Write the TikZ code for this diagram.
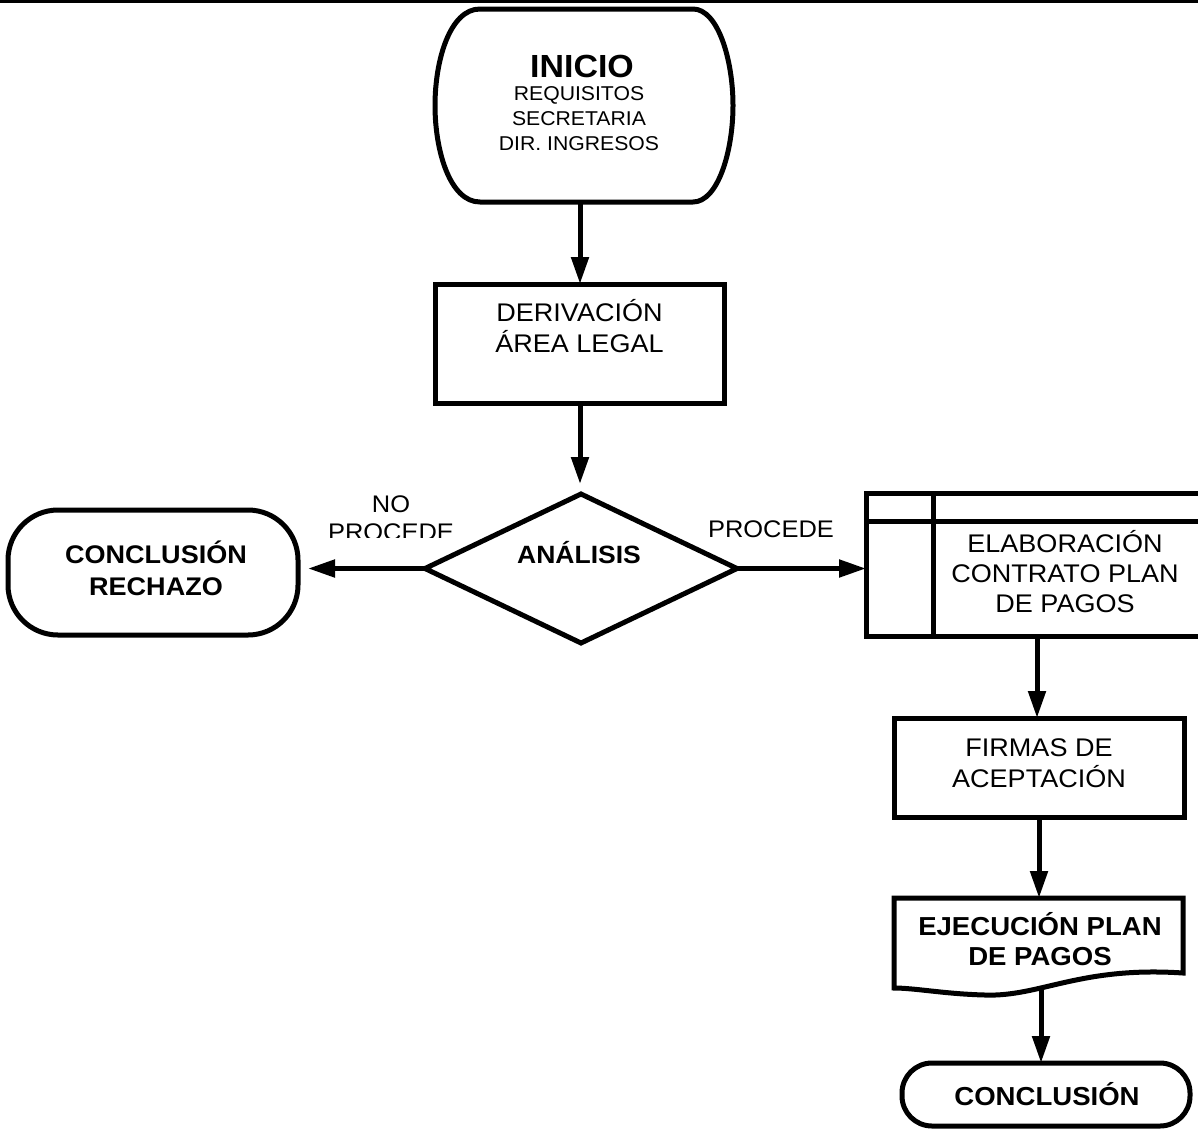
\documentclass[tikz,border=0pt]{standalone}
\usepackage{fontspec}
\setmainfont{Liberation Sans}[FakeStretch=1.06]
\usetikzlibrary{arrows.meta,shapes.geometric}
\tikzset{
  ln/.style={line width=5pt},
  arr/.style={line width=5pt,-{Triangle[length=27pt,width=17pt]}},
  inv/.style={draw=none,inner sep=0pt,outer sep=0pt,minimum width=#1},
  boxnode/.style={draw,line width=5pt,inner sep=0pt,outer sep=0pt},
  txt/.style={anchor=base,align=center,inner sep=0pt},
}
\newcommand{\fs}[2]{\fontsize{#1pt}{#2pt}\selectfont}
\begin{document}
\begin{tikzpicture}[x=1pt,y=-1pt]
\useasboundingbox (0,0) rectangle (1198,1135);
\clip (0,0) rectangle (1198,1135);
\fill[white] (0,0) rectangle (1198,1135);
% top rule
\draw[line width=3pt] (0,1.5) -- (1198,1.5);

% INICIO
\node[inv=290pt,minimum height=193pt] (inicio) at (580,105.5) {};
\draw[ln] (480,9) -- (693,9)
  .. controls (718,9) and (733,60) .. (733,105.5)
  .. controls (733,151) and (718,202) .. (693,202)
  -- (480,202)
  .. controls (450,202) and (435,151) .. (435,105.5)
  .. controls (435,60) and (450,9) .. (480,9) -- cycle;
\node[txt,font=\bfseries\fs{32}{36}] (tinicio) at (582,77) {INICIO};
\node[txt,font=\fs{20}{25}] (treq) at (579,150.7) {REQUISITOS\\SECRETARIA\\DIR. INGRESOS};

% DERIVACION
\node[boxnode,minimum width=289pt,minimum height=119pt] (deriv) at (580,343.5) {};
\node[txt,font=\fs{25.5}{31}] (tderiv) at (579.5,352) {DERIVACIÓN\\ÁREA LEGAL};

% ANALISIS
\node[draw,line width=5pt,shape=diamond,minimum width=312pt,minimum height=149pt,inner sep=0pt,outer sep=0pt] (ana) at (581,568.5) {};
\node[txt,font=\bfseries\fs{25}{28}] (tana) at (579,563) {ANÁLISIS};

% CONCLUSION RECHAZO
\node[boxnode,rounded corners=50pt,minimum width=290pt,minimum height=125pt] (rech) at (153,572.5) {};
\node[txt,font=\bfseries\fs{25.5}{32}] (trech) at (156,595) {CONCLUSIÓN\\RECHAZO};

% labels
\begin{scope}
\clip (300,480) rectangle (480,537);
\node[txt,font=\fs{24}{28}] (lno) at (391,540) {NO\\PROCEDE};
\end{scope}
\node[txt,font=\fs{24}{28}] (lsi) at (771,537) {PROCEDE};

% ELABORACION (internal storage)
\node[inv=342pt,minimum height=143pt] (stor) at (1037,564.5) {};
\draw[ln] (1215,493) -- (866,493) -- (866,636) -- (1215,636);
\draw[ln] (866,521) -- (1215,521);
\draw[ln] (933,493) -- (933,636);
\node[txt,font=\fs{25.5}{30}] (tstor) at (1065,612) {ELABORACIÓN\\CONTRATO PLAN\\DE PAGOS};

% FIRMAS
\node[boxnode,minimum width=290pt,minimum height=99pt] (firm) at (1039,767.5) {};
\node[txt,font=\fs{25.5}{31}] (tfirm) at (1039,787) {FIRMAS DE\\ACEPTACIÓN};

% EJECUCION (document)
\node[inv=289pt,minimum height=90pt] (doc) at (1041,943) {};
\draw[ln] (894,898) -- (1183,898) -- (1183,973)
  .. controls (1080,966) and (1040,997) .. (985,995)
  .. controls (945,994) and (915,988) .. (894,988) -- cycle;
\node[txt,font=\bfseries\fs{26}{30}] (tdoc) at (1040,965) {EJECUCIÓN PLAN\\DE PAGOS};

% CONCLUSION
\node[boxnode,rounded corners=30pt,minimum width=288pt,minimum height=63pt] (conc) at (1046,1094.5) {};
\node[txt,font=\bfseries\fs{26}{30}] (tconc) at (1047,1105) {CONCLUSIÓN};

% connectors
\draw[arr] (inicio.south) -- (deriv.north);
\draw[arr] (deriv.south) -- ([yshift=10pt]deriv.south |- ana.north);
\draw[arr] (ana.west) -- ([xshift=10pt]ana.west -| rech.east);
\draw[arr] (ana.east) -- (ana.east -| stor.west);
\draw[arr] (stor.south) -- (stor.south |- firm.north);
\draw[arr] (firm.south) -- (firm.south |- doc.north);
\draw[arr] (doc.south) -- (doc.south |- conc.north);
\end{tikzpicture}
\end{document}
